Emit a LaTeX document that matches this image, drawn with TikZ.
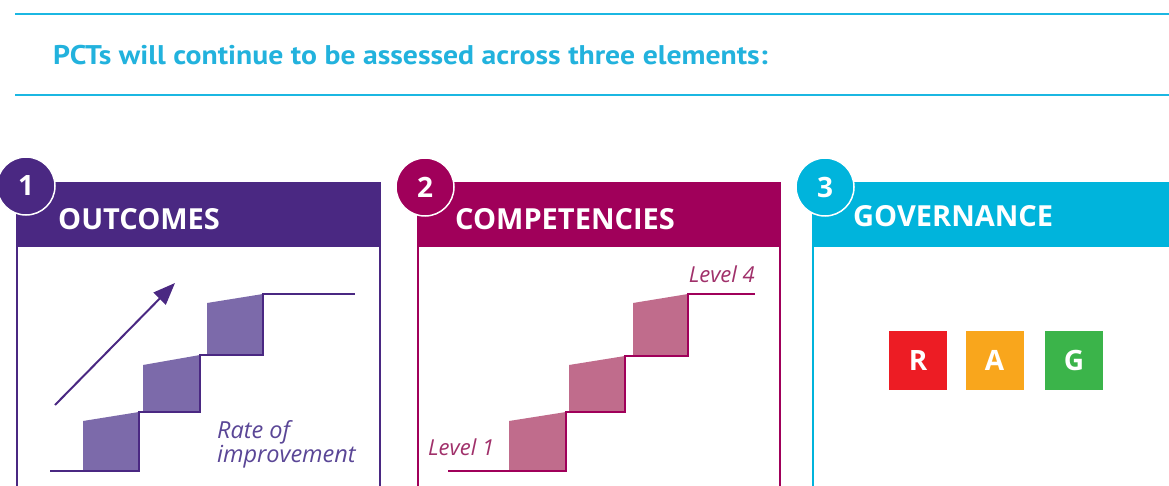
\documentclass[tikz,border=0pt]{standalone}
\usepackage{fontspec}
\setmainfont{Open Sans}
\newfontfamily\titlefont{PT Sans}
\usetikzlibrary{arrows.meta}
\definecolor{lineblue}{HTML}{1BB7E2}
\definecolor{titleblue}{HTML}{22B2DD}
\definecolor{pone}{HTML}{4A2882}
\definecolor{ponefill}{HTML}{7C6AAA}
\definecolor{ponetext}{HTML}{5A4696}
\definecolor{ptwo}{HTML}{A0005A}
\definecolor{ptwofill}{HTML}{C06C8C}
\definecolor{ptwotext}{HTML}{A0306A}
\definecolor{pthree}{HTML}{00B4DC}
\definecolor{ragr}{HTML}{ED1C24}
\definecolor{raga}{HTML}{F9A61C}
\definecolor{ragg}{HTML}{3BB44A}
\tikzset{
  rule/.style={draw=lineblue, line width=2pt},
  headbar/.style={fill=#1, draw=none},
  panelborder/.style={draw=#1, line width=2pt},
  numcircle/.style={circle, fill=#1, draw=white, line width=1.5pt, minimum size=58pt, inner sep=0pt,
    text=white, font=\bfseries\fontsize{28}{28}\selectfont},
  headtext/.style={anchor=base west, text=white, inner sep=0pt, font=\bfseries\fontsize{29}{29}\selectfont},
  stairline/.style={draw=#1, line width=2.4pt, line join=miter},
  italabel/.style={inner sep=0pt, font=\itshape\fontsize{22}{22}\selectfont},
  ragbox/.style={fill=#1, draw=none, minimum width=58pt, minimum height=59pt, inner sep=0pt,
    text=white, font=\bfseries\fontsize{28}{28}\selectfont},
}
\begin{document}
\begin{tikzpicture}[x=1pt,y=-1pt]
\useasboundingbox (0,0) rectangle (1169,486);
% top rules and title
\coordinate (t1a) at (15,14); \coordinate (t1b) at (1169,14);
\coordinate (t2a) at (15,95); \coordinate (t2b) at (1169,95);
\draw[rule] (t1a) -- (t1b);
\draw[rule] (t2a) -- (t2b);
\node[anchor=base west, inner sep=0pt, text=titleblue, font=\titlefont\bfseries\fontsize{27}{27}\selectfont] (title) at (53,65) {\scalebox{1.1}[1]{PCTs will continue to be assessed across three elements:}};

% ---------- panel 1 ----------
\fill[headbar=pone] (17,182) rectangle (380,247);
\draw[panelborder=pone] (17,486) -- (17,183) -- (380,183) -- (380,486);
\node[headtext] (h1) at (58,230) {OUTCOMES};
\node[numcircle=pone] (c1) at (26,186) {1};
\fill[ponefill] (83,421) -- (139,412) -- (139,471) -- (83,471) -- cycle;
\fill[ponefill] (143,365) -- (200,355) -- (200,412) -- (143,412) -- cycle;
\fill[ponefill] (207,303) -- (263,294) -- (263,355) -- (207,355) -- cycle;
\draw[stairline=pone] (50,471) -- (139,471) -- (139,412) -- (200,412) -- (200,355) -- (263,355) -- (263,294) -- (355,294);
\coordinate (ar1) at (55,405); \coordinate (ar2) at (175,283);
\draw[pone, line width=2pt, -{Triangle[length=22pt,width=17pt]}] (ar1) -- (ar2);
\node[italabel, text=ponetext, anchor=base west, font=\itshape\fontsize{23.5}{23.5}\selectfont] (rate) at (217,438) {Rate of};
\node[italabel, text=ponetext, anchor=base west, font=\itshape\fontsize{23.5}{23.5}\selectfont] (impr) at (217,462) {improvement};

% ---------- panel 2 ----------
\fill[headbar=ptwo] (418,182) rectangle (780,247);
\draw[panelborder=ptwo] (418,486) -- (418,183) -- (780,183) -- (780,486);
\node[headtext] (h2) at (455,230) {COMPETENCIES};
\node[numcircle=ptwo] (c2) at (425,187) {2};
\fill[ptwofill] (509,421) -- (566,412) -- (566,471) -- (509,471) -- cycle;
\fill[ptwofill] (569,365) -- (625,356) -- (625,412) -- (569,412) -- cycle;
\fill[ptwofill] (633,303) -- (688,294) -- (688,356) -- (633,356) -- cycle;
\draw[stairline=ptwo] (448,471) -- (566,471) -- (566,412) -- (625,412) -- (625,356) -- (688,356) -- (688,294) -- (755,294);
\node[italabel, text=ptwotext, anchor=base east] (lv4) at (755,283) {Level 4};
\node[italabel, text=ptwotext, anchor=base west] (lv1) at (428,455) {Level 1};

% ---------- panel 3 ----------
\fill[headbar=pthree] (813,182) rectangle (1169,247);
\draw[panelborder=pthree] (813,486) -- (813,183) -- (1169,183);
\node[headtext] (h3) at (853,227) {GOVERNANCE};
\node[numcircle=pthree] (c3) at (825,187) {3};
\node[ragbox=ragr] (r) at (918,360.5) {R};
\node[ragbox=raga] (a) at (994.5,360.5) {A};
\node[ragbox=ragg] (g) at (1074,360.5) {G};
\end{tikzpicture}
\end{document}
